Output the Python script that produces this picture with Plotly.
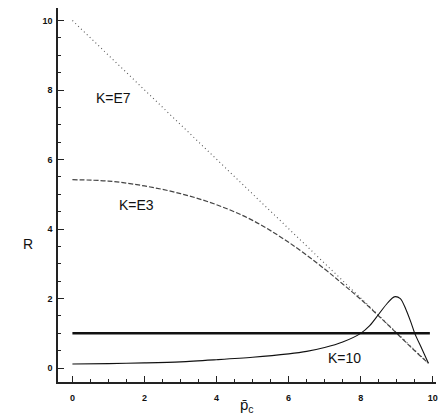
import plotly.graph_objects as go

# data
p_e7 = [0, 2, 4, 6, 8, 9, 9.5, 9.88]
r_e7 = [10.0, 8.0, 6.0, 4.0, 2.0, 1.0, 0.5, 0.14]

p_e3 = [0, 1, 2, 3, 4, 5, 6, 7, 7.5, 8, 8.5, 9, 9.5, 9.88]
r_e3 = [5.42, 5.38, 5.24, 5.02, 4.70, 4.25, 3.62, 2.85, 2.42, 1.98, 1.5, 1.0, 0.5, 0.14]

p_k10 = [0, 1, 2, 3, 4, 5, 6, 6.5, 7, 7.5, 8.0, 8.25, 8.5, 8.75, 8.93, 9.1, 9.25, 9.4, 9.5, 9.7, 9.88]
r_k10 = [0.12, 0.13, 0.15, 0.18, 0.24, 0.31, 0.41, 0.48, 0.59, 0.75, 1.0, 1.22, 1.55, 1.88, 2.05, 2.0, 1.7, 1.3, 1.0, 0.55, 0.14]

p_r1 = [0, 9.92]
r_r1 = [1.0, 1.0]

x_ticks = [0, 2, 4, 6, 8, 10]
y_ticks = [0, 2, 4, 6, 8, 10]

fig = go.Figure()
fig.add_trace(go.Scatter(x=p_e7, y=r_e7, mode="lines",
                         line=dict(color="#555", width=1.1, dash="1px,3px")))
fig.add_trace(go.Scatter(x=p_e3, y=r_e3, mode="lines", line_shape="spline",
                         line=dict(color="#444", width=1.2, dash="5px,2px")))
fig.add_trace(go.Scatter(x=p_k10, y=r_k10, mode="lines", line_shape="spline",
                         line=dict(color="#111", width=1.1, smoothing=0.8)))
fig.add_trace(go.Scatter(x=p_r1, y=r_r1, mode="lines",
                         line=dict(color="#111", width=2.5)))

axis_common = dict(showgrid=False, zeroline=False, showline=True, linecolor="#222",
                   linewidth=1.5, ticks="inside", ticklen=6, tickwidth=1.3, tickcolor="#222",
                   tickfont=dict(family="Liberation Sans", size=9, color="#111", weight="bold"),
                   minor=dict(ticks="inside", ticklen=3, dtick=0.5, tickcolor="#222", tickwidth=1))

fig.update_xaxes(range=[-0.4, 10.09], tickvals=x_ticks, ticklabelstandoff=6, **axis_common)
fig.update_yaxes(range=[-0.4, 10.36], tickvals=y_ticks, ticklabelstandoff=2, **axis_common)

fig.update_layout(width=440, height=420, margin=dict(l=58, r=2, t=8, b=38),
                  plot_bgcolor="white", paper_bgcolor="white", showlegend=False,
                  font=dict(family="Liberation Sans", color="#111"))

fig.add_annotation(x=1.14, y=7.77, text="K=E7", showarrow=False,
                   font=dict(size=14, family="Liberation Sans"))
fig.add_annotation(x=1.78, y=4.69, text="K=E3", showarrow=False,
                   font=dict(size=14, family="Liberation Sans"))
fig.add_annotation(x=7.55, y=0.29, text="K=10", showarrow=False,
                   font=dict(size=14, family="Liberation Sans"))
fig.add_annotation(xref="paper", yref="paper", x=-0.08, y=0.37, text="R",
                   showarrow=False, font=dict(size=14, family="Liberation Sans"),
                   xanchor="center")
fig.add_annotation(xref="paper", yref="paper", x=0.5, y=-0.094, text="p̄<sub>c</sub>",
                   showarrow=False, font=dict(size=15, family="Liberation Sans"),
                   yanchor="bottom")

fig.write_html("out.html")
